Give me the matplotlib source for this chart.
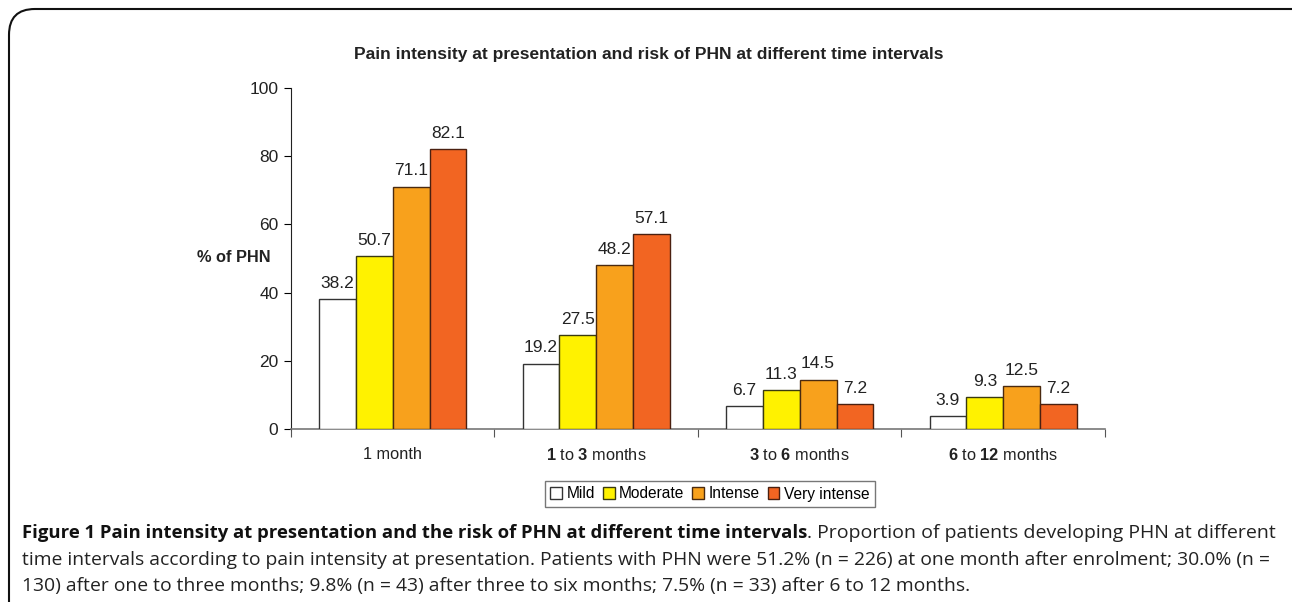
import matplotlib
matplotlib.use("Agg")
import matplotlib.pyplot as plt
import numpy as np
from matplotlib.patches import FancyBboxPatch

plt.rcParams['font.family'] = ['Liberation Sans', 'DejaVu Sans']
plt.rcParams['mathtext.fontset'] = 'custom'
plt.rcParams['mathtext.rm'] = 'Liberation Sans'
plt.rcParams['mathtext.bf'] = 'Liberation Sans:bold'

categories = ["1 month", r"$\mathbf{1}$ to $\mathbf{3}$ months",
              r"$\mathbf{3}$ to $\mathbf{6}$ months", r"$\mathbf{6}$ to $\mathbf{12}$ months"]
series_names = ["Mild", "Moderate", "Intense", "Very intense"]
mild = [38.2, 19.2, 6.7, 3.9]
moderate = [50.7, 27.5, 11.3, 9.3]
intense = [71.1, 48.2, 14.5, 12.5]
very_intense = [82.1, 57.1, 7.2, 7.2]
yticks = [0, 20, 40, 60, 80, 100]

colors = ["#FFFFFF", "#FFF200", "#F8A11C", "#F26522"]
edges = ["#333333", "#3a3a10", "#4a2a10", "#4a2010"]

fig = plt.figure(figsize=(12.92, 6.02), dpi=100)
ax = fig.add_axes([0.2252, 0.2874, 0.6300, 0.5664])

x = np.arange(len(categories))
w = 0.181
series = [mild, moderate, intense, very_intense]
for i, (vals, name) in enumerate(zip(series, series_names)):
    pos = x + (i - 1.5) * w
    ax.bar(pos, vals, width=w, color=colors[i], edgecolor=edges[i], linewidth=1.0,
           label=name, zorder=3)
    for px, v in zip(pos, vals):
        ax.annotate(f"{v:.1f}", (px, v), xytext=(0, 8), textcoords="offset points",
                    ha="center", va="baseline", fontsize=12.5, color="#222222")

ax.set_xlim(-0.5, len(categories) - 0.5)
ax.set_ylim(0, 100)
ax.set_yticks(yticks)
ax.set_yticklabels([str(t) for t in yticks])
ax.set_xticks(np.arange(len(categories) + 1) - 0.5, minor=False)
ax.set_xticklabels([])
ax.set_xticks(x, minor=True)
ax.set_xticklabels(categories, minor=True)
ax.tick_params(axis='x', which='minor', length=0, pad=13, labelsize=11.8, labelcolor="#222222")
ax.tick_params(axis='x', which='major', length=6, direction='out', color="#555555")
ax.tick_params(axis='y', length=5, direction='out', labelsize=12.5, labelcolor="#222222", pad=4)

for s in ["top", "right"]:
    ax.spines[s].set_visible(False)
ax.spines["left"].set_color("#222222")
ax.spines["bottom"].set_color("#777777")
ax.spines["bottom"].set_linewidth(1.2)

fig.text(197 / 1292, 1 - 257 / 602, "% of PHN", fontsize=11.8, fontweight="bold",
         ha="left", va="center", color="#222222")

fig.text(649 / 1292, 1 - 55 / 602, "Pain intensity at presentation and risk of PHN at different time intervals",
         fontsize=12.5, fontweight="bold", ha="center", va="center", color="#222222")

leg = ax.legend(loc="center", bbox_to_anchor=(710 / 1292, 1 - 494 / 602),
                bbox_transform=fig.transFigure, ncol=4, fontsize=11.2,
                frameon=True, fancybox=False, edgecolor="#555555",
                handlelength=0.75, handleheight=0.75, handletextpad=0.3,
                columnspacing=0.5, borderpad=0.35, borderaxespad=0)
leg.get_frame().set_linewidth(1.0)

# rounded border frame
frame = FancyBboxPatch((9 / 1292, -0.2), 1.2, 1 - 9 / 602 + 0.2,
                       boxstyle="round,pad=0,rounding_size=0.02",
                       transform=fig.transFigure, fill=False, edgecolor="#111111",
                       linewidth=1.5, mutation_aspect=1292 / 602)
fig.patches.append(frame)

cap_y = 1 - 538 / 602
t1 = fig.text(22 / 1292, cap_y, "Figure 1 Pain intensity at presentation and the risk of PHN at different time intervals",
              fontsize=13.3, fontweight="bold", family="Open Sans", ha="left", va="baseline",
              color="#111111")
fig.canvas.draw()
bb = t1.get_window_extent()
fig.text(bb.x1 / fig.bbox.width, cap_y,
         ". Proportion of patients developing PHN at different",
         fontsize=14, family="Open Sans", ha="left", va="baseline", color="#222222")
fig.text(22 / 1292, 1 - 565 / 602,
         "time intervals according to pain intensity at presentation. Patients with PHN were 51.2% (n = 226) at one month after enrolment; 30.0% (n =",
         fontsize=13.9, family="Open Sans", ha="left", va="baseline", color="#222222")
fig.text(22 / 1292, 1 - 591 / 602,
         "130) after one to three months; 9.8% (n = 43) after three to six months; 7.5% (n = 33) after 6 to 12 months.",
         fontsize=13.9, family="Open Sans", ha="left", va="baseline", color="#222222")

fig.savefig("out.png", dpi=100)
